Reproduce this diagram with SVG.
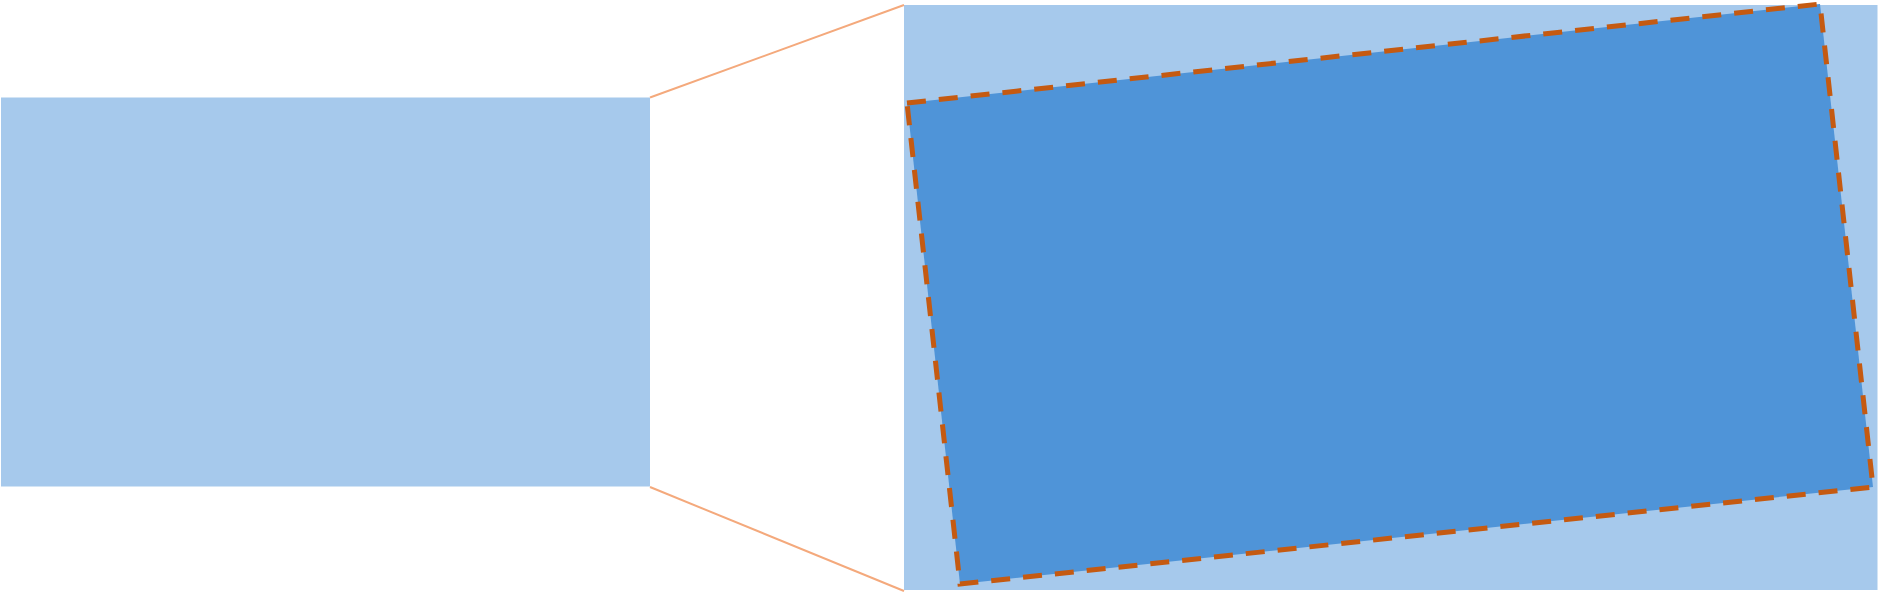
<svg xmlns="http://www.w3.org/2000/svg" width="1883" height="600" viewBox="0 0 1883 600">
<style>
.light{fill:#A6C9EC;}
.rot{fill:#4F94D8;stroke:#C55A11;stroke-width:5;stroke-dasharray:19 13;}
.conn{stroke:#F4A97C;stroke-width:2;fill:none;}
</style>
<rect width="1883" height="600" fill="#FFFFFF"/>
<g id="source-area">
<rect class="light" x="1" y="97.5" width="649" height="389"/>
</g>
<g id="zoom-area">
<rect class="light" x="904" y="5" width="973.5" height="585"/>
</g>
<g id="rotated-rect">
<polygon class="rot" points="907,103 1820,4 1873,487 960,584"/>
</g>
<g id="connectors">
<line class="conn" x1="650" y1="97.5" x2="904" y2="5"/>
<line class="conn" x1="650" y1="487" x2="904" y2="591"/>
</g>
</svg>
